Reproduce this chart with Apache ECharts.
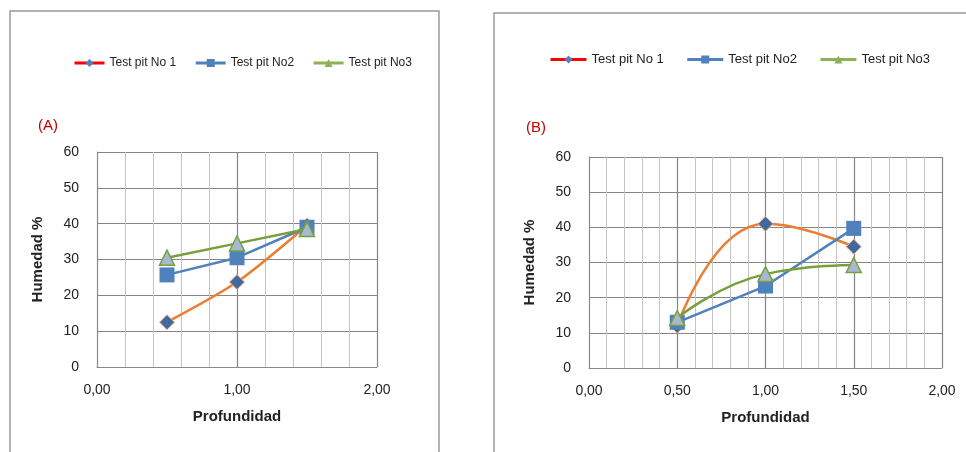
<!DOCTYPE html>
<html>
<head>
<meta charset="utf-8">
<script src="https://cdn.jsdelivr.net/npm/echarts@6/dist/echarts.min.js"></script>
<style>
  html, body { margin: 0; padding: 0; background: #fff; }
  #main { width: 966px; height: 452px; }
</style>
</head>
<body>
<div id="main"></div>
<script>
// datos
var names = ['Test pit No 1', 'Test pit No2', 'Test pit No3'];
var depth = [0.5, 1.0, 1.5];
// (A)
var pitA1 = [12.5, 23.7, 39.5];
var pitA2 = [25.7, 30.5, 39];
var pitA3 = [30.5, 34.5, 38.5];
// (B)
var pitB1 = [12, 41, 34.5];
var pitB2 = [13, 23.3, 39.7];
var pitB3 = [14.2, 26.7, 29.3];
var yTicks = [0, 60, 10];

var myChart = echarts.init(document.getElementById('main'));
var font = 'Liberation Sans';

function pts(ys) {
    return depth.map(function (x, i) { return [x, ys[i]]; });
}
function fmt(v) {
    return v.toFixed(2).replace('.', ',');
}

function xAxis(idx, interval, minorSplit) {
    return {
        gridIndex: idx, type: 'value', min: 0, max: 2, interval: interval,
        name: 'Profundidad', nameLocation: 'middle', nameGap: 42,
        nameTextStyle: { fontFamily: font, fontWeight: 'bold', fontSize: 15, color: '#222' },
        axisLine: { show: true, lineStyle: { color: '#8a8a8a' } },
        axisTick: { show: false },
        axisLabel: { formatter: fmt, fontFamily: font, fontSize: 14, color: '#222', margin: 16 },
        splitLine: { show: true, lineStyle: { color: '#858585', width: 1.2 } },
        minorTick: { show: false, splitNumber: minorSplit },
        minorSplitLine: { show: true, lineStyle: { color: '#c4c4c4', width: 1 } }
    };
}
function yAxis(idx) {
    return {
        gridIndex: idx, type: 'value', min: yTicks[0], max: yTicks[1], interval: yTicks[2],
        name: 'Humedad %', nameLocation: 'middle', nameGap: 52, nameRotate: 90,
        nameTextStyle: { fontFamily: font, fontWeight: 'bold', fontSize: 15, color: '#222' },
        axisLine: { show: true, lineStyle: { color: '#8a8a8a' } },
        axisTick: { show: false },
        axisLabel: { fontFamily: font, fontSize: 14, color: '#222', margin: 18 },
        splitLine: { show: true, lineStyle: { color: '#858585', width: 1.2 } }
    };
}

function series(idx, ys1, ys2, ys3, smooth3) {
    return [
        {
            name: names[0], type: 'line', xAxisIndex: idx, yAxisIndex: idx, data: pts(ys1),
            smooth: idx == 0 ? 0.25 : 0.5, symbol: 'diamond', symbolSize: 15,
            lineStyle: { color: '#ED7D31', width: 2.5 },
            itemStyle: { color: '#3F6A9E', borderColor: '#F4B183', borderWidth: 1 }, z: 3
        },
        {
            name: names[1], type: 'line', xAxisIndex: idx, yAxisIndex: idx, data: pts(ys2),
            symbol: 'rect', symbolSize: 15,
            lineStyle: { color: '#4F81BD', width: 2.5 },
            itemStyle: { color: '#4F81BD' }, z: 4
        },
        {
            name: names[2], type: 'line', xAxisIndex: idx, yAxisIndex: idx, data: pts(ys3),
            smooth: smooth3, symbol: 'triangle', symbolSize: 15,
            lineStyle: { color: '#77A03C', width: 2.5 },
            itemStyle: { color: '#A9B8D2', borderColor: '#77A03C', borderWidth: 1.5 }, z: 5
        }
    ];
}

function legend(left, top, size, w, gap) {
    return {
        left: left, top: top, itemWidth: w, itemHeight: 10, itemGap: gap,
        textStyle: { fontFamily: font, fontSize: size, color: '#222' },
        data: [
            { name: names[0], itemStyle: { color: '#4F81BD', borderWidth: 0 }, lineStyle: { color: '#FF0000', width: 3 } },
            { name: names[1], itemStyle: { color: '#4F81BD' }, lineStyle: { color: '#4F81BD', width: 3 } },
            { name: names[2], itemStyle: { color: '#8DB255', borderWidth: 0 }, lineStyle: { color: '#8DB255', width: 3 } }
        ]
    };
}

var option = {
    animation: false,
    backgroundColor: '#fff',
    graphic: [
        { type: 'rect', shape: { x: 10, y: 11, width: 429, height: 460 }, style: { fill: 'none', stroke: '#9a9a9a', lineWidth: 1.5 } },
        { type: 'rect', shape: { x: 494, y: 13, width: 500, height: 460 }, style: { fill: 'none', stroke: '#9a9a9a', lineWidth: 1.5 } },
        { type: 'text', left: 38, top: 118, style: { text: '(A)', fill: '#C00000', font: '15px ' + font } },
        { type: 'text', left: 526, top: 120, style: { text: '(B)', fill: '#C00000', font: '15px ' + font } }
    ],
    legend: [legend(68, 52, 12, 30, 18), legend(544, 48, 13, 36, 22)],
    grid: [
        { left: 97, top: 152, width: 280, height: 215 },
        { left: 589, top: 157, width: 353, height: 211 }
    ],
    xAxis: [xAxis(0, 1, 5), xAxis(1, 0.5, 5)],
    yAxis: [yAxis(0), yAxis(1)],
    series: series(0, pitA1, pitA2, pitA3, false).concat(series(1, pitB1, pitB2, pitB3, 0.5))
};
myChart.setOption(option);
</script>
</body>
</html>
